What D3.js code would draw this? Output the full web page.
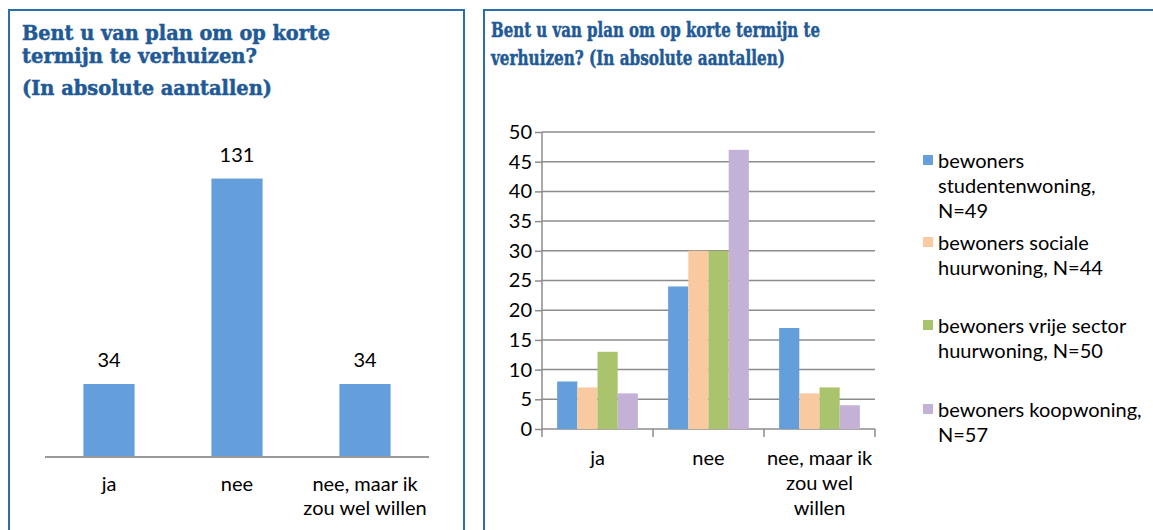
<!DOCTYPE html>
<html>
<head>
<meta charset="utf-8">
<script src="https://cdn.jsdelivr.net/npm/d3@7"></script>
<style>
  body { margin: 0; background: #fff; }
  svg { display: block; }
</style>
</head>
<body>
<script>
// data
var totalCategories = ["ja", "nee", "nee, maar ik zou wel willen"];
var totalValues = [34, 131, 34];

var groupCategories = ["ja", "nee", "nee, maar ik zou wel willen"];
var seriesNames = [
  "bewoners studentenwoning, N=49",
  "bewoners sociale huurwoning, N=44",
  "bewoners vrije sector huurwoning, N=50",
  "bewoners koopwoning, N=57"
];
var studentValues = [8, 24, 17];
var socialValues = [7, 30, 6];
var freeValues = [13, 30, 7];
var ownerValues = [6, 47, 4];
var yTicks = [0, 5, 10, 15, 20, 25, 30, 35, 40, 45, 50];

var seriesValues = [studentValues, socialValues, freeValues, ownerValues];
var colors = ["#659fdb", "#f9c9a0", "#a9c46d", "#c3b2d5"];

var W = 1153, H = 530;
var bodyFont = "Lato, 'Open Sans', sans-serif";
var bodySize = 20;
var titleFont = "'DejaVu Serif', serif";
var titleColor = "#1f5a96";
var gridColor = "#8c8c8c";

var svg = d3.select("body").append("svg")
  .attr("width", W).attr("height", H);

// panel frames (bottom / right edge run off the picture)
svg.append("rect").attr("x", 9).attr("y", 10).attr("width", 455).attr("height", 540)
  .attr("fill", "none").attr("stroke", "#2c6eab").attr("stroke-width", 2);
svg.append("rect").attr("x", 484).attr("y", 10).attr("width", 700).attr("height", 540)
  .attr("fill", "none").attr("stroke", "#2c6eab").attr("stroke-width", 2);

function title(lines) {
  lines.forEach(function(l) {
    svg.append("text")
      .attr("x", l.x).attr("y", l.y)
      .attr("font-family", titleFont).attr("font-weight", "bold")
      .attr("font-size", 20).attr("fill", titleColor)
      .attr("stroke", titleColor).attr("stroke-width", 0.5)
      .attr("textLength", l.w).attr("lengthAdjust", "spacingAndGlyphs")
      .text(l.t);
  });
}

title([
  {t: "Bent u van plan om op korte", x: 22, y: 40, w: 308},
  {t: "termijn te verhuizen?", x: 22, y: 63, w: 235},
  {t: "(In absolute aantallen)", x: 22, y: 95, w: 250}
]);
title([
  {t: "Bent u van plan om op korte termijn te", x: 491, y: 37, w: 329},
  {t: "verhuizen? (In absolute aantallen)", x: 491, y: 65, w: 294}
]);

// wrapped category text
function wrapLabel(sel, lines, x, y0, lh) {
  var t = sel.append("text")
    .attr("text-anchor", "middle")
    .attr("font-family", bodyFont).attr("font-size", bodySize).attr("fill", "#000");
  lines.forEach(function(s, i) {
    t.append("tspan").attr("x", x).attr("y", y0 + i * lh).text(s);
  });
}

// ---- left chart ----
var x1 = d3.scaleBand().domain(totalCategories).range([45, 429]);
var y1 = d3.scaleLinear().domain([0, 140]).range([456, 159.5]);
var bw1 = x1.bandwidth() / 2.5;

var left = svg.append("g");
left.selectAll("rect.bar").data(totalValues).enter().append("rect")
  .attr("class", "bar")
  .attr("x", function(d, i) { return x1(totalCategories[i]) + (x1.bandwidth() - bw1) / 2; })
  .attr("y", function(d) { return y1(d); })
  .attr("width", bw1)
  .attr("height", function(d) { return y1(0) - y1(d); })
  .attr("fill", colors[0]);

left.selectAll("text.val").data(totalValues).enter().append("text")
  .attr("class", "val")
  .attr("x", function(d, i) { return x1(totalCategories[i]) + x1.bandwidth() / 2; })
  .attr("y", function(d) { return y1(d) - 17; })
  .attr("text-anchor", "middle")
  .attr("font-family", bodyFont).attr("font-size", bodySize)
  .text(function(d) { return d; });

left.append("line")
  .attr("x1", 45).attr("x2", 429).attr("y1", y1(0) + 1).attr("y2", y1(0) + 1)
  .attr("stroke", "#999").attr("stroke-width", 2);

var leftLabels = [["ja"], ["nee"], ["nee, maar ik", "zou wel willen"]];
totalCategories.forEach(function(c, i) {
  wrapLabel(left, leftLabels[i], x1(c) + x1.bandwidth() / 2, 491, 24);
});

// ---- right chart ----
var x2 = d3.scaleBand().domain(groupCategories).range([542, 875]);
// group = 4 bars, gap = 1.5 bars
var bw2 = x2.bandwidth() / 5.5;
var y2 = d3.scaleLinear().domain([0, 50]).range([429, 132]);

var right = svg.append("g");

var yAxis = d3.axisLeft(y2).tickValues(yTicks).tickSize(7).tickPadding(3);
var gy = right.append("g").attr("transform", "translate(542,0)").call(yAxis);
gy.select(".domain").remove();
gy.selectAll(".tick line").attr("stroke", gridColor).attr("stroke-width", 1.5);
gy.selectAll(".tick text").attr("font-family", bodyFont).attr("font-size", bodySize).attr("fill", "#000");

right.selectAll("line.grid").data(yTicks).enter().append("line")
  .attr("class", "grid")
  .attr("x1", 542).attr("x2", 875)
  .attr("y1", function(d) { return y2(d); }).attr("y2", function(d) { return y2(d); })
  .attr("stroke", gridColor).attr("stroke-width", 1.5);

right.append("line")
  .attr("x1", 542).attr("x2", 542).attr("y1", y2(50)).attr("y2", y2(0))
  .attr("stroke", gridColor).attr("stroke-width", 1.5);

// category ticks at band edges
var edges = groupCategories.map(function(c) { return x2(c); }).concat([875]);
right.selectAll("line.xt").data(edges).enter().append("line")
  .attr("class", "xt")
  .attr("x1", function(d) { return d; }).attr("x2", function(d) { return d; })
  .attr("y1", y2(0)).attr("y2", y2(0) + 8)
  .attr("stroke", gridColor).attr("stroke-width", 1.5);

seriesValues.forEach(function(vals, s) {
  right.selectAll("rect.s" + s).data(vals).enter().append("rect")
    .attr("class", "s" + s)
    .attr("x", function(d, i) { return x2(groupCategories[i]) + bw2 * 0.75 + s * bw2; })
    .attr("y", function(d) { return y2(d); })
    .attr("width", bw2)
    .attr("height", function(d) { return y2(0) - y2(d); })
    .attr("fill", colors[s]);
});

var rightLabels = [["ja"], ["nee"], ["nee, maar ik", "zou wel", "willen"]];
groupCategories.forEach(function(c, i) {
  wrapLabel(right, rightLabels[i], x2(c) + x2.bandwidth() / 2, 465, 25);
});

// legend
var legendLines = [
  ["bewoners", "studentenwoning,", "N=49"],
  ["bewoners sociale", "huurwoning, N=44"],
  ["bewoners vrije sector", "huurwoning, N=50"],
  ["bewoners koopwoning,", "N=57"]
];
var legendY = [168, 250, 333, 417];
var legend = right.append("g");
legendLines.forEach(function(lines, i) {
  legend.append("rect")
    .attr("x", 923).attr("y", legendY[i] - 13).attr("width", 10).attr("height", 10)
    .attr("fill", colors[i]);
  var t = legend.append("text")
    .attr("font-family", bodyFont).attr("font-size", bodySize).attr("fill", "#000");
  lines.forEach(function(s, j) {
    t.append("tspan").attr("x", 938).attr("y", legendY[i] + j * 25).text(s);
  });
});
</script>
</body>
</html>
